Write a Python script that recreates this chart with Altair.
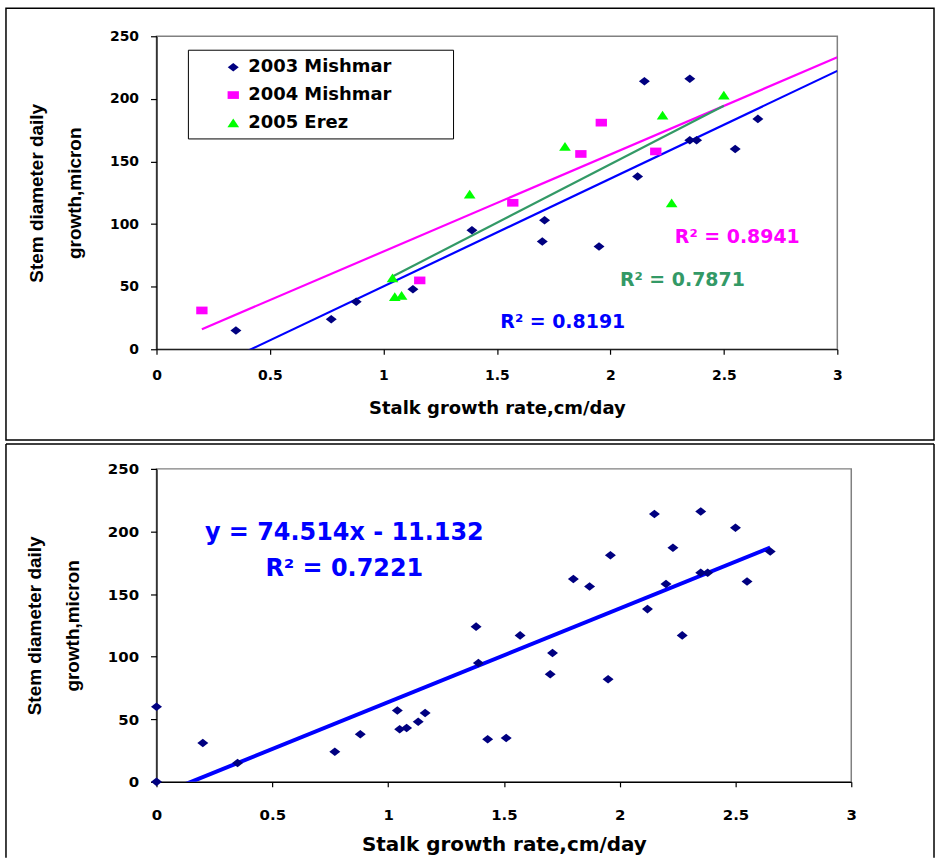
import altair as alt
import pandas as pd

# ---------------- data ----------------
series_names = ["2003 Mishmar", "2004 Mishmar", "2005 Erez"]
marker_colors = ["#000080", "#FF00FF", "#00FF00"]
line_colors = ["#0000FF", "#FF00FF", "#339966"]

x_2003 = [0.35, 0.77, 0.88, 1.13, 1.39, 1.70, 1.71, 1.95, 2.12, 2.15, 2.35, 2.35, 2.38, 2.55, 2.65]
y_2003 = [15, 24, 38, 48, 95, 86, 103, 82, 138, 214, 216, 167, 167, 160, 184]
x_2004 = [0.20, 1.16, 1.57, 1.87, 1.96, 2.20]
y_2004 = [31, 55, 117, 156, 181, 158]
x_2005 = [1.04, 1.05, 1.08, 1.38, 1.80, 2.23, 2.27, 2.50]
y_2005 = [57, 42, 43, 124, 162, 187, 117, 203]
# additional points present only in the pooled (lower) chart
x_extra = [0.00, 0.00, 1.43, 1.51]
y_extra = [60, 0, 34, 35]

r2_labels = ["R² = 0.8191", "R² = 0.8941", "R² = 0.7871"]
eq_label = "y = 74.514x - 11.132"
eq_r2 = "R² = 0.7221"
x_title = "Stalk growth rate,cm/day"
y_title = ["Stem diameter daily", "growth,micron"]
x_ticks = [0, 0.5, 1, 1.5, 2, 2.5, 3]
y_ticks = [0, 50, 100, 150, 200, 250]

# ---------------- styles ----------------
DIAMOND = "M0,-0.78L1,0L0,0.78L-1,0Z"
RECT = "M-1,-0.68H1V0.68H-1Z"
TRI = "M0,-0.75L1,0.75L-1,0.75Z"
shapes = [DIAMOND, RECT, TRI]
sizes = [121, 137, 114]
WIDE = "DejaVu Sans"
ARIAL = "Liberation Sans"

top_df = pd.concat([
    pd.DataFrame({"x": x_2003, "y": y_2003, "series": series_names[0]}),
    pd.DataFrame({"x": x_2004, "y": y_2004, "series": series_names[1]}),
    pd.DataFrame({"x": x_2005, "y": y_2005, "series": series_names[2]}),
], ignore_index=True)

bottom_df = pd.DataFrame({
    "x": x_2003 + x_2004 + x_2005 + x_extra,
    "y": y_2003 + y_2004 + y_2005 + y_extra,
})

one = pd.DataFrame({"k": [0]})

color_scale = alt.Scale(domain=series_names, range=marker_colors)
shape_scale = alt.Scale(domain=series_names, range=shapes)
size_scale = alt.Scale(domain=series_names, range=sizes)


def axes(label_size, title_size, label_pad, title_pad_x):
    xa = alt.Axis(values=x_ticks, format="~g", title=x_title, grid=False,
                  tickSize=5, labelPadding=label_pad, titlePadding=title_pad_x,
                  labelFont=WIDE, labelFontWeight="bold", labelFontSize=label_size,
                  titleFont=WIDE, titleFontWeight="bold", titleFontSize=title_size,
                  labelFlush=False)
    ya = alt.Axis(values=y_ticks, title=y_title, grid=False, tickSize=6,
                  labelPadding=12, titlePadding=25,
                  labelFont=WIDE, labelFontWeight="bold", labelFontSize=label_size,
                  titleFont=ARIAL, titleFontWeight="bold", titleFontSize=19,
                  titleLineHeight=38, labelFlush=False)
    return xa, ya


# ---------------- top chart ----------------
TW, TH = 683, 314
xs_top = alt.Scale(domain=[0, 3], nice=False, zero=False)
ys = alt.Scale(domain=[0, 250], nice=False)
xa_t, ya_t = axes(14, 18, 14, 17)

top_frame = alt.Chart(one).mark_rect(fillOpacity=0, stroke="black", strokeWidth=1.5, clip=False).encode(
    x=alt.value(-151), x2=alt.value(780), y=alt.value(-28), y2=alt.value(TH + 91)
)

top_points = alt.Chart(top_df).mark_point(filled=True, opacity=1, strokeWidth=0, clip=False).encode(
    x=alt.X("x:Q", scale=xs_top, axis=xa_t),
    y=alt.Y("y:Q", scale=ys, axis=ya_t),
    color=alt.Color("series:N", scale=color_scale, legend=None),
    shape=alt.Shape("series:N", scale=shape_scale, legend=None),
    size=alt.Size("series:N", scale=size_scale, legend=None),
)


def trend(xv, yv, color, extent, width, xscale):
    return alt.Chart(pd.DataFrame({"x": xv, "y": yv})).transform_regression(
        "x", "y", extent=extent
    ).mark_line(color=color, strokeWidth=width, clip=True).encode(
        x=alt.X("x:Q", scale=xscale), y=alt.Y("y:Q", scale=ys)
    )


trend_2003 = trend(x_2003, y_2003, line_colors[0], [min(x_2003), 3.0], 2.2, xs_top)
trend_2004 = trend(x_2004, y_2004, line_colors[1], [min(x_2004), 3.0], 2.2, xs_top)
trend_2005 = trend(x_2005, y_2005, line_colors[2], [min(x_2005), max(x_2005)], 2.2, xs_top)


def label(text, xv, yv, color, size, align="left"):
    return alt.Chart(one).mark_text(
        text=text, color=color, font=WIDE, fontWeight="bold", fontSize=size,
        align=align, baseline="alphabetic", clip=False
    ).encode(x=alt.datum(xv), y=alt.datum(yv))


r2_blue = label(r2_labels[0], 1.515, 16.7, line_colors[0], 19)
r2_pink = label(r2_labels[1], 2.284, 85.2, line_colors[1], 19)
r2_green = label(r2_labels[2], 2.042, 50.2, line_colors[2], 19)

# legend (drawn in the plot's pixel space)
leg_df = pd.DataFrame({"series": series_names, "row": list(range(len(series_names)))})
legend_box = alt.Chart(one).mark_rect(fill="white", stroke="black", strokeWidth=1, clip=False).encode(
    x=alt.value(32), x2=alt.value(298), y=alt.value(14), y2=alt.value(103)
)
legend_sym = alt.Chart(leg_df).transform_calculate(py="31 + 28 * datum.row").mark_point(
    filled=True, opacity=1, strokeWidth=0, clip=False
).encode(
    x=alt.value(77), y=alt.Y("py:Q", scale=None),
    color=alt.Color("series:N", scale=color_scale, legend=None),
    shape=alt.Shape("series:N", scale=shape_scale, legend=None),
    size=alt.Size("series:N", scale=size_scale, legend=None),
)
legend_txt = alt.Chart(leg_df).transform_calculate(py="31 + 28 * datum.row").mark_text(
    font=WIDE, fontWeight="bold", fontSize=18, align="left", baseline="middle", color="black", clip=False
).encode(x=alt.value(92), y=alt.Y("py:Q", scale=None), text="series:N")

top = alt.layer(
    top_frame, trend_2004, trend_2005, trend_2003, top_points,
    r2_pink, r2_green, r2_blue, legend_box, legend_sym, legend_txt
).properties(width=TW, height=TH)

# ---------------- bottom chart ----------------
BW, BH = 697, 314
xs_bot = alt.Scale(domain=[0, 3], nice=False, zero=False)
xa_b, ya_b = axes(15, 20, 21, 12)

bot_rule_l = alt.Chart(one).mark_rule(color="black", strokeWidth=1.5, clip=False).encode(
    x=alt.value(-151), y=alt.value(-25), y2=alt.value(390))
bot_rule_t = alt.Chart(one).mark_rule(color="black", strokeWidth=1.5, clip=False).encode(
    x=alt.value(-151), x2=alt.value(780), y=alt.value(-25))
bot_rule_r = alt.Chart(one).mark_rule(color="black", strokeWidth=1.5, clip=False).encode(
    x=alt.value(780), y=alt.value(-25), y2=alt.value(390))

bot_points = alt.Chart(bottom_df).mark_point(
    filled=True, opacity=1, strokeWidth=0, shape=DIAMOND, size=121, color="#000080", clip=False
).encode(
    x=alt.X("x:Q", scale=xs_bot, axis=xa_b),
    y=alt.Y("y:Q", scale=ys, axis=ya_b),
)
bot_trend = trend(bottom_df["x"].tolist(), bottom_df["y"].tolist(), "#0000FF",
                  [0.0, max(bottom_df["x"])], 4, xs_bot)
eq1 = label(eq_label, 0.811, 193.5, "#0000FF", 24, align="center")
eq2 = label(eq_r2, 0.811, 164.8, "#0000FF", 24, align="center")

bottom = alt.layer(
    bot_rule_l, bot_rule_t, bot_rule_r, bot_trend, bot_points, eq1, eq2
).properties(width=BW, height=BH)

chart = alt.vconcat(top, bottom, spacing=0).properties(
    padding={"left": 4, "top": 5, "right": 0, "bottom": 0},
    background="white",
).configure_view(
    stroke="#808080", strokeWidth=1.5
).configure_axis(
    domainColor="black", tickColor="black", labelColor="black", titleColor="black",
    domainWidth=1.2, tickWidth=1.2
)

chart.save("out.html", embed_options={"renderer": "svg", "actions": False})
